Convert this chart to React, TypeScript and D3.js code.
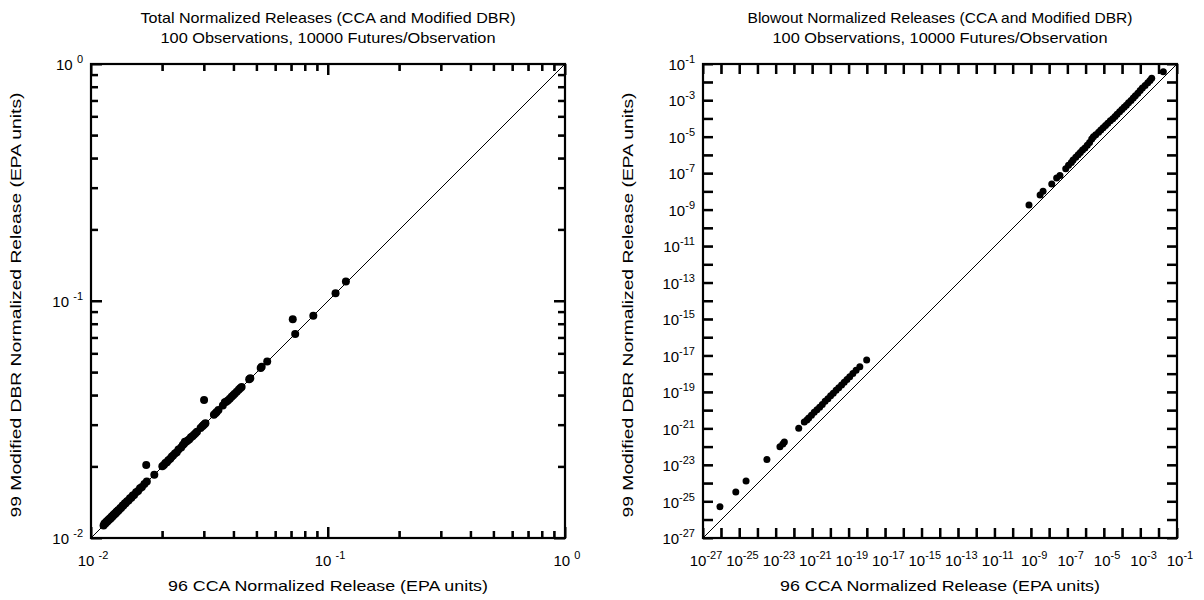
import React, { useEffect, useRef } from "react";
import * as d3 from "d3";

// ---------- Data ----------
// Left panel: Total normalized releases (CCA on x, Modified DBR on y)
const totalCCA = [
  0.0113, 0.0114, 0.0115, 0.0116, 0.0117, 0.0118, 0.0119, 0.0120, 0.0121, 0.0122,
  0.0123, 0.0124, 0.0125, 0.0126, 0.0127, 0.0128, 0.0129, 0.0130, 0.0131, 0.0133,
  0.0134, 0.0136, 0.0137, 0.0139, 0.0140, 0.0142, 0.0144, 0.0146, 0.0148, 0.0150,
  0.0152, 0.0155, 0.0158, 0.0161, 0.0164, 0.0168, 0.0172, 0.0185, 0.0171, 0.0200,
  0.0203, 0.0206, 0.0209, 0.0212, 0.0216, 0.0219, 0.0222, 0.0226, 0.0230, 0.0234,
  0.0240, 0.0244, 0.0247, 0.0249, 0.0252, 0.0256, 0.0260, 0.0264, 0.0268, 0.0272,
  0.0276, 0.0280, 0.0290, 0.0295, 0.0298, 0.0301, 0.0304, 0.0300, 0.0330, 0.0335,
  0.0339, 0.0345, 0.0360, 0.0367, 0.0372, 0.0378, 0.0385, 0.0392, 0.0398, 0.0404,
  0.0412, 0.0420, 0.0426, 0.0432, 0.0465, 0.0470, 0.0520, 0.0525, 0.0554, 0.0727,
  0.0710, 0.0867, 0.1076, 0.1190,
];
const totalDBR = [
  0.0113, 0.0115, 0.0115, 0.0117, 0.0117, 0.0119, 0.0119, 0.0121, 0.0121, 0.0123,
  0.0123, 0.0125, 0.0125, 0.0127, 0.0127, 0.0129, 0.0129, 0.0131, 0.0131, 0.0134,
  0.0134, 0.0137, 0.0137, 0.0140, 0.0140, 0.0143, 0.0144, 0.0147, 0.0148, 0.0151,
  0.0152, 0.0156, 0.0158, 0.0162, 0.0164, 0.0169, 0.0173, 0.0185, 0.0203, 0.0201,
  0.0203, 0.0207, 0.0209, 0.0213, 0.0216, 0.0220, 0.0223, 0.0227, 0.0230, 0.0236,
  0.0241, 0.0247, 0.0250, 0.0255, 0.0255, 0.0258, 0.0261, 0.0266, 0.0269, 0.0273,
  0.0277, 0.0281, 0.0291, 0.0296, 0.0299, 0.0302, 0.0305, 0.0382, 0.0331, 0.0336,
  0.0340, 0.0347, 0.0362, 0.0374, 0.0376, 0.0380, 0.0387, 0.0394, 0.0400, 0.0406,
  0.0414, 0.0422, 0.0428, 0.0434, 0.0467, 0.0472, 0.0522, 0.0528, 0.0556, 0.0726,
  0.0838, 0.0866, 0.1078, 0.1210,
];

// Right panel: Blowout normalized releases (CCA on x, Modified DBR on y)
const blowoutCCA = [
  8.5e-27, 6.3e-26, 2.3e-25, 3.2e-24, 1.66e-23, 2.4e-23, 2.9e-23, 1.78e-22, 3.6e-22, 5.0e-22,
  6.3e-22, 8.9e-22, 1.26e-21, 1.78e-21, 2.5e-21, 3.5e-21, 5.0e-21, 7.1e-21, 1.0e-20, 1.4e-20,
  2.0e-20, 2.8e-20, 4.0e-20, 5.6e-20, 7.9e-20, 1.12e-19, 1.66e-19, 2.5e-19, 4.0e-19, 9.5e-19,
  7.6e-10, 3.1e-9, 4.5e-9, 1.35e-8, 2.5e-8, 3.8e-8, 7.9e-8, 1.12e-7, 1.6e-7, 2.0e-7,
  2.8e-7, 3.8e-7, 5.0e-7, 6.6e-7, 8.9e-7, 1.2e-6, 1.6e-6, 2.1e-6, 2.6e-6, 3.5e-6,
  5.0e-6, 6.6e-6, 8.9e-6, 1.2e-5, 1.6e-5, 2.2e-5, 3.0e-5, 4.0e-5, 5.2e-5, 7.1e-5,
  9.5e-5, 1.26e-4, 1.66e-4, 2.2e-4, 3.0e-4, 4.0e-4, 5.2e-4, 7.1e-4, 9.5e-4, 1.26e-3,
  1.78e-3, 2.5e-3, 3.3e-3, 4.1e-3, 1.78e-2,
];
const blowoutDBR = [
  5.2e-26, 3.3e-25, 1.35e-24, 2.0e-23, 1.02e-22, 1.45e-22, 1.86e-22, 1.05e-21, 2.3e-21, 3.0e-21,
  3.8e-21, 5.4e-21, 7.9e-21, 1.1e-20, 1.5e-20, 2.1e-20, 3.2e-20, 4.4e-20, 6.3e-20, 8.7e-20,
  1.26e-19, 1.74e-19, 2.5e-19, 3.5e-19, 5.0e-19, 7.1e-19, 1.05e-18, 1.58e-18, 2.5e-18, 5.8e-18,
  1.86e-9, 6.6e-9, 1.05e-8, 2.6e-8, 5.6e-8, 7.6e-8, 1.78e-7, 2.8e-7, 4.0e-7, 5.4e-7,
  7.6e-7, 1.05e-6, 1.38e-6, 1.9e-6, 2.5e-6, 3.5e-6, 5.0e-6, 7.6e-6, 1.02e-5, 1.32e-5,
  1.78e-5, 2.4e-5, 3.2e-5, 4.2e-5, 5.6e-5, 7.6e-5, 1.0e-4, 1.32e-4, 1.74e-4, 2.4e-4,
  3.2e-4, 4.2e-4, 5.5e-4, 7.6e-4, 1.0e-3, 1.38e-3, 1.82e-3, 2.5e-3, 3.5e-3, 4.8e-3,
  6.6e-3, 9.5e-3, 1.26e-2, 1.66e-2, 3.8e-2,
];

const totalExps = [-2, -1, 0];
const totalMinorMultipliers = [2, 3, 4, 5, 6, 7, 8, 9];
const blowoutLabelExps = [-27, -25, -23, -21, -19, -17, -15, -13, -11, -9, -7, -5, -3, -1];
const blowoutTickExps = d3.range(-27, 0);

const titlesTotal = ["Total Normalized Releases (CCA and Modified DBR)", "100 Observations, 10000 Futures/Observation"];
const titlesBlowout = ["Blowout Normalized Releases (CCA and Modified DBR)", "100 Observations, 10000 Futures/Observation"];
const xTitle = "96 CCA Normalized Release (EPA units)";
const yTitle = "99 Modified DBR Normalized Release (EPA units)";

const FONT = "'Liberation Sans', Arial, Helvetica, sans-serif";

function Pow(props: any) {
  const { x, y, exp, anchor, spaced } = props;
  return (
    <text x={x} y={y} textAnchor={anchor} fontSize={15} fontFamily={FONT} fill="#000">
      {spaced ? "10 " : "10"}
      <tspan fontSize={11} dy={-7}>{String(exp)}</tspan>
    </text>
  );
}

function Panel(props: any) {
  const { x0, x1, y0, y1, domain, xs, ys, majors, minors, labelExps, tickLen, minorLen, r, title, spaced, titleLens } = props;
  const sx = d3.scaleLog().domain(domain).range([x0, x1]);
  const sy = d3.scaleLog().domain(domain).range([y1, y0]);
  const cx = (x0 + x1) / 2;
  const cy = (y0 + y1) / 2;
  const axRef = useRef<SVGGElement>(null);

  useEffect(() => {
    const g = d3.select(axRef.current);
    g.selectAll("*").remove();
    const groups = [
      { vals: majors, len: tickLen },
      { vals: minors, len: minorLen },
    ];
    groups.forEach(({ vals, len }) => {
      if (!vals.length || !len) return;
      g.append("g").attr("transform", `translate(0,${y1})`)
        .call(d3.axisBottom(sx).tickValues(vals).tickSize(-len).tickFormat(() => ""));
      g.append("g").attr("transform", `translate(0,${y0})`)
        .call(d3.axisTop(sx).tickValues(vals).tickSize(-len).tickFormat(() => ""));
      g.append("g").attr("transform", `translate(${x0},0)`)
        .call(d3.axisLeft(sy).tickValues(vals).tickSize(-len).tickFormat(() => ""));
      g.append("g").attr("transform", `translate(${x1},0)`)
        .call(d3.axisRight(sy).tickValues(vals).tickSize(-len).tickFormat(() => ""));
    });
    g.selectAll(".domain").remove();
    g.selectAll(".tick line").attr("stroke", "#000").attr("stroke-width", 2);
  }, []);

  const tickList: any[] = [];
  majors.forEach((v: number) => tickList.push({ v, len: tickLen }));
  minors.forEach((v: number) => tickList.push({ v, len: minorLen }));

  return (
    <g>
      <text x={cx} y={23} textAnchor="middle" fontSize={15} fontFamily={FONT} fill="#000"
        textLength={titleLens[0]} lengthAdjust="spacingAndGlyphs">{title[0]}</text>
      <text x={cx} y={43} textAnchor="middle" fontSize={15} fontFamily={FONT} fill="#000"
        textLength={titleLens[1]} lengthAdjust="spacingAndGlyphs">{title[1]}</text>
      <line x1={x0} y1={y1} x2={x1} y2={y0} stroke="#000" strokeWidth={1} />
      {xs.map((v: number, i: number) => (
        <circle key={"p" + i} cx={sx(v)} cy={sy(ys[i])} r={r} fill="#000" />
      ))}
      <rect x={x0} y={y0} width={x1 - x0} height={y1 - y0} fill="none" stroke="#000" strokeWidth={2.2} />
      {tickList.map((t: any, i: number) => {
        const px = sx(t.v);
        const py = sy(t.v);
        return (
          <g key={"t" + i} stroke="#000" strokeWidth={2}>
            <line x1={px} x2={px} y1={y1} y2={y1 - t.len} />
            <line x1={px} x2={px} y1={y0} y2={y0 + t.len} />
            <line x1={x0} x2={x0 + t.len} y1={py} y2={py} />
            <line x1={x1} x2={x1 - t.len} y1={py} y2={py} />
          </g>
        );
      })}
      <g ref={axRef} />
      {labelExps.map((e: number) => (
        <Pow key={"x" + e} x={sx(Math.pow(10, e)) + (spaced ? 2 : 3)} y={y1 + 28} exp={e} anchor="middle" spaced={spaced} />
      ))}
      {labelExps.map((e: number) => (
        <Pow key={"y" + e} x={x0 - 8} y={sy(Math.pow(10, e)) + 6} exp={e} anchor="end" spaced={spaced} />
      ))}
      <text x={cx} y={591} textAnchor="middle" fontSize={15} fontFamily={FONT} fill="#000"
        textLength={320} lengthAdjust="spacingAndGlyphs">{xTitle}</text>
      <text transform={`translate(${x0 - 70},${cy + 4}) rotate(-90)`} textAnchor="middle" fontSize={15}
        fontFamily={FONT} fill="#000" textLength={425} lengthAdjust="spacingAndGlyphs">
        {yTitle}
      </text>
    </g>
  );
}

export default function App() {
  const leftMinors: number[] = [];
  [-2, -1].forEach((dd) => {
    totalMinorMultipliers.forEach((k) => leftMinors.push(k * Math.pow(10, dd)));
  });
  return (
    <svg width={1204} height={600} style={{ position: "absolute", left: 0, top: 0, background: "#fff" }}>
      <Panel
        x0={91} x1={565} y0={64} y1={538}
        domain={[0.01, 1]}
        xs={totalCCA} ys={totalDBR}
        majors={totalExps.map((e) => Math.pow(10, e))}
        minors={leftMinors}
        labelExps={totalExps}
        tickLen={11} minorLen={7} r={4}
        title={titlesTotal}
        titleLens={[375, 335]}
        spaced
      />
      <Panel
        x0={703} x1={1177} y0={64} y1={538}
        domain={[1e-27, 1e-1]}
        xs={blowoutCCA} ys={blowoutDBR}
        majors={blowoutTickExps.map((e) => Math.pow(10, e))}
        minors={[]}
        labelExps={blowoutLabelExps}
        tickLen={10} minorLen={0} r={3.5}
        title={titlesBlowout}
        titleLens={[385, 335]}
      />
    </svg>
  );
}
